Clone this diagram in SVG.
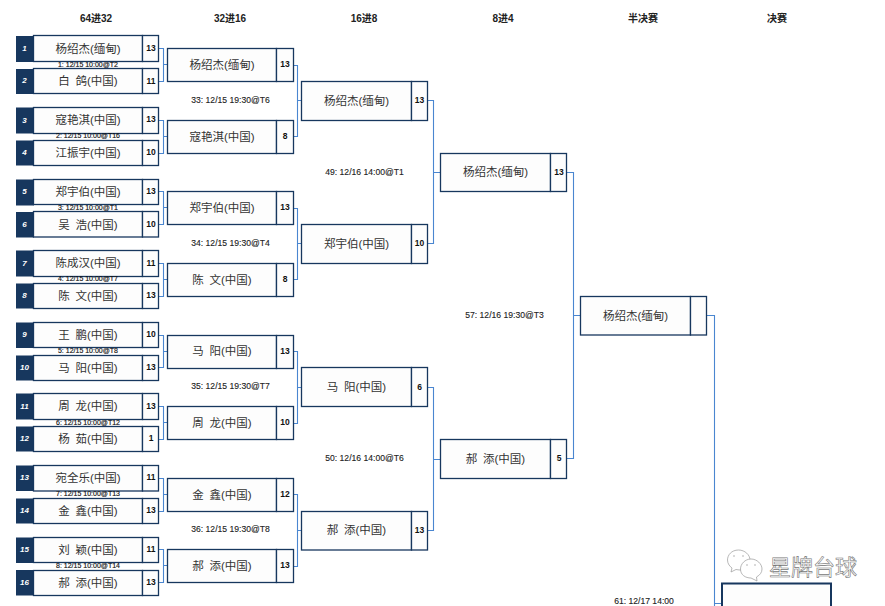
<svg xmlns="http://www.w3.org/2000/svg" width="885" height="606" viewBox="0 0 885 606">
<style>
text{font-family:"Liberation Sans","Noto Sans CJK SC",sans-serif;text-anchor:middle}
.h{font-size:10px;font-weight:700;fill:#222}
.b{fill:#fdfdfd;stroke:#17375e;stroke-width:1.3}
.s{fill:#17375e}
.n{font-size:11.500px;fill:#333}
.sc{font-size:8.500px;font-weight:700;fill:#111}
.sd{font-size:8px;font-weight:700;font-style:italic;fill:#fff}
.l{font-size:8.600px;fill:#222;stroke:#222;stroke-width:.12}
.m{font-size:7px;fill:#111;stroke:#111;stroke-width:.15}
.c{fill:none;stroke:#4a86d0;stroke-width:1.1}
.w{fill:#fff;stroke:#999;stroke-width:.7}
.e{fill:#aaa}
</style>
<rect width="885" height="606" fill="#fff"/>
<g id="headers">
<text class="h" x="96" y="22">64进32</text><text class="h" x="230" y="22">32进16</text><text class="h" x="364" y="22">16进8</text><text class="h" x="503" y="22">8进4</text><text class="h" x="643" y="22">半决赛</text><text class="h" x="777" y="22">决赛</text>
</g>
<g id="connectors">
<path class="c" d="M158.500 48.500H163.500V81.500H158.500M163.500 64.500H167"/>
<path class="c" d="M158.500 120.500H163.500V153.500H158.500M163.500 136.500H167"/>
<path class="c" d="M158.500 191.500H163.500V224.500H158.500M163.500 207.500H167"/>
<path class="c" d="M158.500 263.500H163.500V296.500H158.500M163.500 279.500H167"/>
<path class="c" d="M158.500 335.500H163.500V367.500H158.500M163.500 351.500H167"/>
<path class="c" d="M158.500 406.500H163.500V439.500H158.500M163.500 422.500H167"/>
<path class="c" d="M158.500 478.500H163.500V511.500H158.500M163.500 494.500H167"/>
<path class="c" d="M158.500 549.500H163.500V582.500H158.500M163.500 565.500H167"/>
<path class="c" d="M294 65.500H297.500V136.500H294M297.500 100.500H301.500"/>
<path class="c" d="M294 208.500H297.500V279.500H294M297.500 243.500H301.500"/>
<path class="c" d="M294 351.500H297.500V423.500H294M297.500 387.500H301.500"/>
<path class="c" d="M294 494.500H297.500V566.500H294M297.500 530.500H301.500"/>
<path class="c" d="M428 100.500H433.500V243.500H428M433.500 172.500H440"/>
<path class="c" d="M428 387.500H433.500V530.500H428M433.500 459.500H440"/>
<path class="c" d="M566.500 172.500H573.500V458.500H566.500M573.500 315.500H580"/>
<path class="c" d="M706.500 315.500H714.500V606M714.500 603.500H721.500"/>
</g>
<g id="m1a"><rect class="s" x="16" y="36" width="18" height="26"/><rect class="b" x="33.500" y="35.500" width="109" height="26"/><rect class="b" x="142.500" y="35.500" width="16" height="26"/><text class="sd" x="24.500" y="51">1</text><text class="n" x="88" y="52.500">杨绍杰(缅甸)</text><text class="sc" x="151" y="51">13</text></g>
<g id="m1b"><rect class="s" x="16" y="69" width="18" height="25"/><rect class="b" x="33.500" y="68.500" width="109" height="25"/><rect class="b" x="142.500" y="68.500" width="16" height="25"/><text class="sd" x="24.500" y="83">2</text><text class="n" x="88" y="85">白&#8194;鸽(中国)</text><text class="sc" x="151" y="84">11</text></g>
<g id="m2a"><rect class="s" x="16" y="107.500" width="18" height="26"/><rect class="b" x="33.500" y="107.500" width="109" height="26"/><rect class="b" x="142.500" y="107.500" width="16" height="26"/><text class="sd" x="24.500" y="122.500">3</text><text class="n" x="88" y="124">寇艳淇(中国)</text><text class="sc" x="151" y="122">13</text></g>
<g id="m2b"><rect class="s" x="16" y="140.500" width="18" height="25"/><rect class="b" x="33.500" y="140.500" width="109" height="25"/><rect class="b" x="142.500" y="140.500" width="16" height="25"/><text class="sd" x="24.500" y="155">4</text><text class="n" x="88" y="156.500">江振宇(中国)</text><text class="sc" x="151" y="155">10</text></g>
<g id="m3a"><rect class="s" x="16" y="179.500" width="18" height="26"/><rect class="b" x="33.500" y="179.500" width="109" height="25"/><rect class="b" x="142.500" y="179.500" width="16" height="25"/><text class="sd" x="24.500" y="194">5</text><text class="n" x="88" y="195.500">郑宇伯(中国)</text><text class="sc" x="151" y="194">13</text></g>
<g id="m3b"><rect class="s" x="16" y="212" width="18" height="25.500"/><rect class="b" x="33.500" y="211.500" width="109" height="25.500"/><rect class="b" x="142.500" y="211.500" width="16" height="25.500"/><text class="sd" x="24.500" y="227">6</text><text class="n" x="88" y="228.500">吴&#8194;浩(中国)</text><text class="sc" x="151" y="227">10</text></g>
<g id="m4a"><rect class="s" x="16" y="250.500" width="18" height="26"/><rect class="b" x="33.500" y="250.500" width="109" height="26"/><rect class="b" x="142.500" y="250.500" width="16" height="26"/><text class="sd" x="24.500" y="266">7</text><text class="n" x="88" y="267">陈成汉(中国)</text><text class="sc" x="151" y="266">11</text></g>
<g id="m4b"><rect class="s" x="16" y="283.500" width="18" height="25"/><rect class="b" x="33.500" y="283.500" width="109" height="25"/><rect class="b" x="142.500" y="283.500" width="16" height="25"/><text class="sd" x="24.500" y="298">8</text><text class="n" x="88" y="299.500">陈&#8194;文(中国)</text><text class="sc" x="151" y="298">13</text></g>
<g id="m5a"><rect class="s" x="16" y="322.500" width="18" height="25.500"/><rect class="b" x="33.500" y="322.500" width="109" height="25"/><rect class="b" x="142.500" y="322.500" width="16" height="25"/><text class="sd" x="24.500" y="337">9</text><text class="n" x="88" y="338.500">王&#8194;鹏(中国)</text><text class="sc" x="151" y="337">10</text></g>
<g id="m5b"><rect class="s" x="16" y="355.500" width="18" height="25"/><rect class="b" x="33.500" y="355.500" width="109" height="25"/><rect class="b" x="142.500" y="355.500" width="16" height="25"/><text class="sd" x="24.500" y="370">10</text><text class="n" x="88" y="371.500">马&#8194;阳(中国)</text><text class="sc" x="151" y="370">13</text></g>
<g id="m6a"><rect class="s" x="16" y="393.500" width="18" height="26"/><rect class="b" x="33.500" y="393.500" width="109" height="26"/><rect class="b" x="142.500" y="393.500" width="16" height="26"/><text class="sd" x="24.500" y="409">11</text><text class="n" x="88" y="410">周&#8194;龙(中国)</text><text class="sc" x="151" y="409">13</text></g>
<g id="m6b"><rect class="s" x="16" y="426.500" width="18" height="25"/><rect class="b" x="33.500" y="426.500" width="109" height="25"/><rect class="b" x="142.500" y="426.500" width="16" height="25"/><text class="sd" x="24.500" y="441">12</text><text class="n" x="88" y="442.500">杨&#8194;茹(中国)</text><text class="sc" x="151" y="441">1</text></g>
<g id="m7a"><rect class="s" x="16" y="465.500" width="18" height="25.500"/><rect class="b" x="33.500" y="465.500" width="109" height="25.500"/><rect class="b" x="142.500" y="465.500" width="16" height="25.500"/><text class="sd" x="24.500" y="480">13</text><text class="n" x="88" y="482">宛全乐(中国)</text><text class="sc" x="151" y="480">11</text></g>
<g id="m7b"><rect class="s" x="16" y="498.500" width="18" height="25"/><rect class="b" x="33.500" y="498.500" width="109" height="25"/><rect class="b" x="142.500" y="498.500" width="16" height="25"/><text class="sd" x="24.500" y="513">14</text><text class="n" x="88" y="514.500">金&#8194;鑫(中国)</text><text class="sc" x="151" y="513">13</text></g>
<g id="m8a"><rect class="s" x="16" y="537.500" width="18" height="25.500"/><rect class="b" x="33.500" y="537.500" width="109" height="25"/><rect class="b" x="142.500" y="537.500" width="16" height="25"/><text class="sd" x="24.500" y="552">15</text><text class="n" x="88" y="553.500">刘&#8194;颖(中国)</text><text class="sc" x="151" y="552">11</text></g>
<g id="m8b"><rect class="s" x="16" y="570" width="18" height="25.500"/><rect class="b" x="33.500" y="570.500" width="109" height="25"/><rect class="b" x="142.500" y="570.500" width="16" height="25"/><text class="sd" x="24.500" y="584.500">16</text><text class="n" x="88" y="586.500">郝&#8194;添(中国)</text><text class="sc" x="151" y="585">13</text></g>
<g id="r1labels">
<text class="m" x="88" y="66.500">1: 12/15 10:00@T2</text><text class="m" x="88" y="138">2: 12/15 10:00@T16</text><text class="m" x="88" y="209.500">3: 12/15 10:00@T1</text><text class="m" x="88" y="280.500">4: 12/15 10:00@T7</text><text class="m" x="88" y="352.500">5: 12/15 10:00@T8</text><text class="m" x="88" y="424.500">6: 12/15 10:00@T12</text><text class="m" x="88" y="496">7: 12/15 10:00@T13</text><text class="m" x="88" y="568">8: 12/15 10:00@T14</text>
</g>
<g id="r2a"><rect class="b" x="167.500" y="48.500" width="109" height="33"/><rect class="b" x="276.500" y="48.500" width="17" height="33"/><text class="n" x="222" y="69">杨绍杰(缅甸)</text><text class="sc" x="285" y="67">13</text></g>
<g id="r2b"><rect class="b" x="167.500" y="120.500" width="109" height="33"/><rect class="b" x="276.500" y="120.500" width="17" height="33"/><text class="n" x="222" y="141">寇艳淇(中国)</text><text class="sc" x="285" y="139">8</text></g>
<g id="r2c"><rect class="b" x="167.500" y="191.500" width="109" height="33"/><rect class="b" x="276.500" y="191.500" width="17" height="33"/><text class="n" x="222" y="212">郑宇伯(中国)</text><text class="sc" x="285" y="210">13</text></g>
<g id="r2d"><rect class="b" x="167.500" y="263.500" width="109" height="33"/><rect class="b" x="276.500" y="263.500" width="17" height="33"/><text class="n" x="222" y="284">陈&#8194;文(中国)</text><text class="sc" x="285" y="282">8</text></g>
<g id="r2e"><rect class="b" x="167.500" y="335.500" width="109" height="33"/><rect class="b" x="276.500" y="335.500" width="17" height="33"/><text class="n" x="222" y="355">马&#8194;阳(中国)</text><text class="sc" x="285" y="354">13</text></g>
<g id="r2f"><rect class="b" x="167.500" y="406.500" width="109" height="33"/><rect class="b" x="276.500" y="406.500" width="17" height="33"/><text class="n" x="222" y="427">周&#8194;龙(中国)</text><text class="sc" x="285" y="425">10</text></g>
<g id="r2g"><rect class="b" x="167.500" y="478.500" width="109" height="33"/><rect class="b" x="276.500" y="478.500" width="17" height="33"/><text class="n" x="222" y="499">金&#8194;鑫(中国)</text><text class="sc" x="285" y="497">12</text></g>
<g id="r2h"><rect class="b" x="167.500" y="549.500" width="109" height="33"/><rect class="b" x="276.500" y="549.500" width="17" height="33"/><text class="n" x="222" y="570">郝&#8194;添(中国)</text><text class="sc" x="285" y="568">13</text></g>
<g id="r2labels">
<text class="l" x="230.500" y="103">33: 12/15 19:30@T6</text><text class="l" x="230.500" y="246">34: 12/15 19:30@T4</text><text class="l" x="230.500" y="389">35: 12/15 19:30@T7</text><text class="l" x="230.500" y="532">36: 12/15 19:30@T8</text>
</g>
<g id="r3a"><rect class="b" x="301.500" y="81.500" width="110" height="39"/><rect class="b" x="411.500" y="81.500" width="16" height="39"/><text class="n" x="356.500" y="105">杨绍杰(缅甸)</text><text class="sc" x="419.500" y="103">13</text></g>
<g id="r3b"><rect class="b" x="301.500" y="224.500" width="110" height="39"/><rect class="b" x="411.500" y="224.500" width="16" height="39"/><text class="n" x="356.500" y="248">郑宇伯(中国)</text><text class="sc" x="419.500" y="246">10</text></g>
<g id="r3c"><rect class="b" x="301.500" y="367.500" width="110" height="39"/><rect class="b" x="411.500" y="367.500" width="16" height="39"/><text class="n" x="356.500" y="391">马&#8194;阳(中国)</text><text class="sc" x="419.500" y="390">6</text></g>
<g id="r3d"><rect class="b" x="301.500" y="511.500" width="110" height="38.500"/><rect class="b" x="411.500" y="511.500" width="16" height="38.500"/><text class="n" x="356.500" y="534">郝&#8194;添(中国)</text><text class="sc" x="419.500" y="533">13</text></g>
<g id="r3labels"><text class="l" x="364.500" y="175">49: 12/16 14:00@T1</text><text class="l" x="364.500" y="461">50: 12/16 14:00@T6</text></g>
<g id="r4a"><rect class="b" x="440.500" y="153.500" width="110" height="38"/><rect class="b" x="550.500" y="153.500" width="16" height="38"/><text class="n" x="495.500" y="176">杨绍杰(缅甸)</text><text class="sc" x="559" y="175">13</text></g>
<g id="r4b"><rect class="b" x="440.500" y="439.500" width="110" height="39"/><rect class="b" x="550.500" y="439.500" width="16" height="39"/><text class="n" x="495.500" y="463">郝&#8194;添(中国)</text><text class="sc" x="559" y="461">5</text></g>
<g id="r4label"><text class="l" x="504.500" y="318">57: 12/16 19:30@T3</text></g>
<g id="r5a"><rect class="b" x="580.500" y="296.500" width="110" height="38.500"/><rect class="b" x="690.500" y="296.500" width="16" height="38.500"/><text class="n" x="635.500" y="319.500">杨绍杰(缅甸)</text></g>
<g id="r5label"><text class="l" x="644" y="604">61: 12/17 14:00</text></g>
<g id="r6a"><rect x="722" y="583.500" width="109" height="40" fill="#fdfdfd" stroke="#17375e" stroke-width="2"/></g>
<g id="watermark">
<path class="w" d="M738.500 550C731.500 550 727.500 555 727.500 560C727.500 564 730 566.500 732 568L731 572L736 569.500C738 570 740 570 742 570C748 570 750 565 750 560C750 555 745 550 738.500 550Z"/>
<circle class="e" cx="734" cy="556" r=".8"/><circle class="e" cx="743" cy="556" r=".8"/>
<path class="w" d="M751 559C745 559 740.500 564 740.500 569C740.500 575 745.500 578 751 578L757 581L756.500 577C760 575 762 572.500 762 569C762 564 757 559 751 559Z"/>
<circle class="e" cx="747" cy="565" r=".8"/><circle class="e" cx="755" cy="565" r=".8"/>
<text x="813" y="575" font-size="22" fill="#fff" stroke="#777" stroke-width=".6">星牌台球</text>
</g>
</svg>
